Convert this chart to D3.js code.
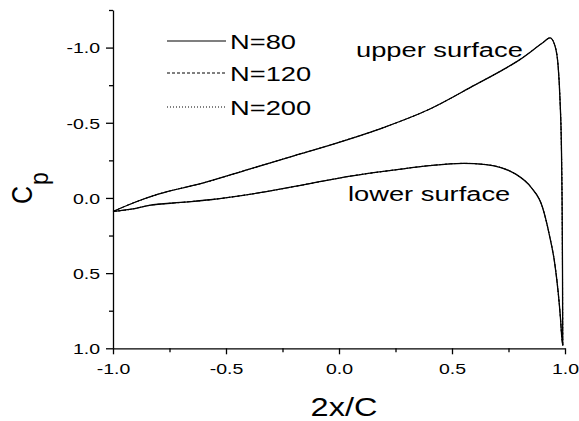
<!DOCTYPE html>
<html><head><meta charset="utf-8">
<script src="https://cdn.jsdelivr.net/npm/d3@7"></script>
<style>
body{margin:0;background:#fff;}
text{font-family:"Liberation Sans",Arial,sans-serif;fill:#000;}
</style></head>
<body><svg id="c" width="579" height="421"></svg>
<script>
// ---- data ----
const upperX  = [-1.0, -0.9, -0.8, -0.6, -0.4, -0.2, 0.0, 0.2, 0.4, 0.6, 0.74, 0.8, 0.9, 0.934, 0.956, 0.97, 0.978, 0.984, 0.987, 0.989, 0.99];
const upperCp = [0.09, 0.027, -0.025, -0.10, -0.19, -0.28, -0.37, -0.47, -0.59, -0.75, -0.865, -0.92, -1.03, -1.065, -1.01, -0.87, -0.65, -0.35, 0.0, 0.5, 0.98];
const lowerX  = [-1.0, -0.92, -0.84, -0.7, -0.57, -0.35, -0.13, 0.05, 0.25, 0.4, 0.55, 0.65, 0.72, 0.78, 0.85, 0.9, 0.93, 0.955, 0.97, 0.98, 0.986, 0.99];
const lowerCp = [0.09, 0.075, 0.05, 0.03, 0.012, -0.035, -0.095, -0.145, -0.187, -0.215, -0.23, -0.222, -0.2, -0.16, -0.07, 0.06, 0.24, 0.44, 0.63, 0.8, 0.93, 0.98];
const seriesNames = ["N=80", "N=120", "N=200"];
const seriesDash  = [null, "3,2", "1,2"];
const xMajorTicks = [-1.0, -0.5, 0.0, 0.5, 1.0];
const xMinorTicks = [-0.75, -0.25, 0.25, 0.75];
const yMajorTicks = [-1.0, -0.5, 0.0, 0.5, 1.0];
const yMinorTicks = [-1.25, -0.75, -0.25, 0.25, 0.75];
const xTitle = "2x/C";
const yTitleMain = "C", yTitleSub = "p";
const surfaceLabels = ["upper surface", "lower surface"];

// ---- drawing ----
const SX = 1.3; // horizontal text stretch of the original
const svg = d3.select("#c");
const x = d3.scaleLinear().domain([-1, 1]).range([113, 565]);
const y = d3.scaleLinear().domain([-1.25, 1.0]).range([10, 348.3]);
const fmt = d => d.toFixed(1);

// axes
const gx = svg.append("g").attr("transform", `translate(0,${y(1.0)})`);
gx.call(d3.axisBottom(x).tickValues(xMajorTicks).tickSize(6).tickFormat(fmt).tickSizeOuter(0));
gx.append("g").call(d3.axisBottom(x).tickValues(xMinorTicks).tickSize(4).tickFormat("").tickSizeOuter(0)).select(".domain").remove();
gx.selectAll(".tick text").attr("font-size", 15).attr("font-family", "Liberation Sans, Arial, sans-serif")
  .attr("fill", "#000").attr("y", 26).attr("dy", 0)
  .attr("transform", `scale(${SX},1)`);

const gy = svg.append("g").attr("transform", `translate(${x(-1)},0)`);
gy.call(d3.axisLeft(y).tickValues(yMajorTicks).tickSize(7).tickFormat(fmt).tickSizeOuter(0));
gy.append("g").call(d3.axisLeft(y).tickValues(yMinorTicks).tickSize(4).tickFormat("").tickSizeOuter(0)).select(".domain").remove();
gy.selectAll(".tick text").attr("font-size", 15).attr("font-family", "Liberation Sans, Arial, sans-serif")
  .attr("fill", "#000").attr("x", -10).attr("dy", "0.36em")
  .attr("transform", `scale(${SX},1)`);
svg.selectAll(".domain, .tick line").attr("stroke", "#000").attr("stroke-width", 1.3);

// curves
const line = d3.line().x(d => x(d[0])).y(d => y(d[1])).curve(d3.curveMonotoneX);
const upper = upperX.map((v, i) => [v, upperCp[i]]);
const lower = lowerX.map((v, i) => [v, lowerCp[i]]);
seriesNames.forEach((name, i) => {
  [upper, lower].forEach(pts => {
    svg.append("path").datum(pts).attr("d", line).attr("fill", "none")
      .attr("stroke", "#000").attr("stroke-width", i === 0 ? 1.3 : 1)
      .attr("stroke-dasharray", seriesDash[i]);
  });
});

// legend
const legY = [41, 73, 107];
seriesNames.forEach((name, i) => {
  svg.append("line").attr("x1", 167).attr("x2", 226).attr("y1", legY[i]).attr("y2", legY[i])
    .attr("stroke", "#000").attr("stroke-width", i === 0 ? 1.2 : 1).attr("stroke-dasharray", seriesDash[i]);
  svg.append("text").attr("transform", `translate(230,${legY[i] + 7.5}) scale(${SX},1)`)
    .attr("font-size", 21).text(name);
});

// surface labels
svg.append("text").attr("transform", `translate(356,57) scale(${SX},1)`).attr("font-size", 21).text(surfaceLabels[0]);
svg.append("text").attr("transform", `translate(348,201) scale(${SX},1)`).attr("font-size", 21).text(surfaceLabels[1]);

// axis titles
svg.append("text").attr("transform", `translate(344,416) scale(${SX},1)`).attr("text-anchor", "middle")
  .attr("font-size", 25).text(xTitle);
const yt = svg.append("text").attr("transform", "translate(32,204) rotate(-90) scale(1,1.15)").attr("font-size", 25);
yt.append("tspan").text(yTitleMain);
yt.append("tspan").attr("dy", 14).attr("dx", 1).attr("font-size", 23).text(yTitleSub);
</script></body></html>
